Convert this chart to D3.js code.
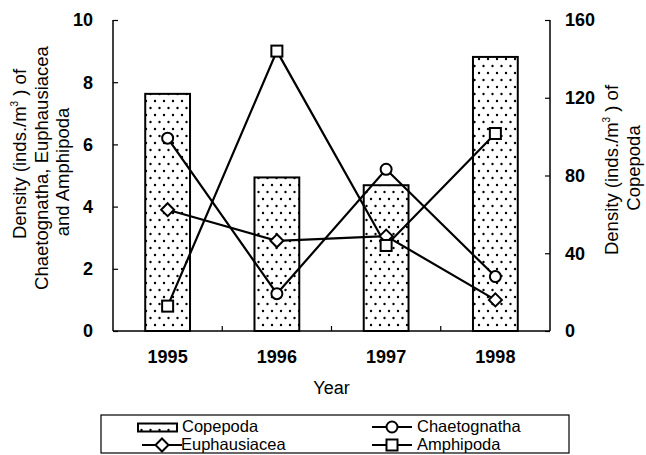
<!DOCTYPE html>
<html><head><meta charset="utf-8">
<script src="https://cdn.jsdelivr.net/npm/d3@7"></script>
<style>
html,body{margin:0;padding:0;background:#fff;}
text{font-family:"Liberation Sans",Arial,sans-serif;fill:#000;}
</style></head>
<body>
<svg id="c" width="646" height="455"></svg>
<script>
const years = ["1995","1996","1997","1998"];
const copepoda = [122, 79, 75, 141];
const chaetognatha = [6.2, 1.2, 5.2, 1.75];
const euphausiacea = [3.9, 2.9, 3.05, 1.0];
const amphipoda = [0.8, 9.0, 2.75, 6.35];
const leftTicks = [0, 2, 4, 6, 8, 10];
const rightTicks = [0, 40, 80, 120, 160];

const svg = d3.select("#c");
const L = 113, R = 550, T = 20, B = 331;

const x = d3.scaleBand().domain(years).range([L, R]).paddingInner(0.59).paddingOuter(0.295);
const xc = d => x(d) + x.bandwidth()/2;
const yL = d3.scaleLinear().domain([0, 10]).range([B, T]);
const yR = d3.scaleLinear().domain([0, 160]).range([B, T]);

// dot pattern
const defs = svg.append("defs");
const pat = defs.append("pattern").attr("id","dots").attr("patternUnits","userSpaceOnUse")
  .attr("width", 9).attr("height", 14);
pat.append("rect").attr("width",9).attr("height",14).attr("fill","#fff");
pat.append("circle").attr("cx",2).attr("cy",3).attr("r",1.2).attr("fill","#000");
pat.append("circle").attr("cx",6.5).attr("cy",10).attr("r",1.2).attr("fill","#000");

// bars
svg.append("g").selectAll("rect").data(years).join("rect")
  .attr("x", d => x(d)).attr("width", x.bandwidth())
  .attr("y", (d,i) => yR(copepoda[i])).attr("height", (d,i) => B - yR(copepoda[i]))
  .attr("fill","url(#dots)").attr("stroke","#000").attr("stroke-width",2);

// axes
const axL = svg.append("g").attr("transform",`translate(${L},0)`)
  .call(d3.axisRight(yL).tickValues(leftTicks).tickSize(5).tickFormat(""));
const axR = svg.append("g").attr("transform",`translate(${R},0)`)
  .call(d3.axisLeft(yR).tickValues(rightTicks).tickSize(5).tickFormat(""));
[axL, axR].forEach(a => {
  a.select(".domain").attr("stroke","#000").attr("stroke-width",1.5).attr("d", `M0,${T}V${B}`);
  a.selectAll("line").attr("stroke","#000").attr("stroke-width",1.2);
});
svg.append("line").attr("x1",L).attr("x2",R).attr("y1",B).attr("y2",B).attr("stroke","#000").attr("stroke-width",1.5);
// category separator ticks
svg.append("g").selectAll("line").data(years.slice(1)).join("line")
  .attr("x1", d => x(d) - x.step()*x.paddingInner()/2).attr("x2", d => x(d) - x.step()*x.paddingInner()/2)
  .attr("y1", B).attr("y2", B-5).attr("stroke","#000").attr("stroke-width",1.2);

// tick labels
svg.append("g").selectAll("text").data(leftTicks).join("text")
  .attr("x", 93).attr("y", d => yL(d)).attr("dy","0.35em").attr("text-anchor","end")
  .attr("font-size",18).attr("font-weight","bold").text(d => d);
svg.append("g").selectAll("text").data(rightTicks).join("text")
  .attr("x", 565).attr("y", d => yR(d)).attr("dy","0.35em").attr("text-anchor","start")
  .attr("font-size",18).attr("font-weight","bold").text(d => d);
svg.append("g").selectAll("text").data(years).join("text")
  .attr("x", d => xc(d)).attr("y", 363).attr("text-anchor","middle")
  .attr("font-size",18).attr("font-weight","bold").text(d => d);

svg.append("text").attr("x", (L+R)/2).attr("y", 394).attr("text-anchor","middle")
  .attr("font-size",18).text("Year");

// axis titles
function vtext(cx, cy, parts){
  const t = svg.append("text").attr("transform",`translate(${cx},${cy}) rotate(-90)`)
    .attr("text-anchor","middle").attr("dy","0.35em").attr("font-size",18.5);
  parts.forEach(p => {
    const s = t.append("tspan").text(p.t);
    if (p.sup) s.attr("font-size",10).attr("dy","-8");
    if (p.after) s.attr("dy","8");
  });
  return t;
}
vtext(20, 154, [{t:"Density (inds./m"},{t:"3",sup:true},{t:" ) of",after:true}]);
vtext(42, 168, [{t:"Chaetognatha, Euphausiacea"}]);
vtext(63, 172, [{t:"and Amphipoda"}]);
vtext(612, 170, [{t:"Density (inds./m"},{t:"3",sup:true},{t:" ) of",after:true}]);
vtext(634, 168, [{t:"Copepoda"}]);

// lines
const series = [
  {name:"Chaetognatha", v:chaetognatha, sym:"circle"},
  {name:"Euphausiacea", v:euphausiacea, sym:"diamond"},
  {name:"Amphipoda", v:amphipoda, sym:"square"}
];
const line = d3.line().x((d,i) => xc(years[i])).y(d => yL(d));
series.forEach(s => {
  svg.append("path").datum(s.v).attr("d", line).attr("fill","none")
    .attr("stroke","#000").attr("stroke-width",2.2);
});
function marker(g, sym, cx, cy){
  if (sym === "circle") g.append("circle").attr("cx",cx).attr("cy",cy).attr("r",5.5);
  else if (sym === "square") g.append("rect").attr("x",cx-5.5).attr("y",cy-5.5).attr("width",11).attr("height",11);
  else g.append("path").attr("d",`M${cx},${cy-6.5}L${cx+6.5},${cy}L${cx},${cy+6.5}L${cx-6.5},${cy}Z`);
}
series.forEach(s => {
  const g = svg.append("g").attr("fill","#fff").attr("stroke","#000").attr("stroke-width",2);
  s.v.forEach((d,i) => marker(g, s.sym, xc(years[i]), yL(d)));
});

// legend
const lg = svg.append("g");
lg.append("rect").attr("x",101).attr("y",415).attr("width",468).attr("height",38)
  .attr("fill","#fff").attr("stroke","#000").attr("stroke-width",1.2);
lg.append("rect").attr("x",138).attr("y",423.5).attr("width",39).attr("height",8)
  .attr("fill","url(#dots)").attr("stroke","#000").attr("stroke-width",2);
lg.append("text").attr("x",182).attr("y",432).attr("font-size",16.5).text("Copepoda");
const items = [
  {name:"Euphausiacea", sym:"diamond", x0:142, y:445, tx:181, ty:450},
  {name:"Chaetognatha", sym:"circle", x0:372, y:427, tx:417, ty:432},
  {name:"Amphipoda", sym:"square", x0:372, y:445, tx:417, ty:450}
];
items.forEach(it => {
  lg.append("line").attr("x1",it.x0).attr("x2",it.x0+40).attr("y1",it.y).attr("y2",it.y)
    .attr("stroke","#000").attr("stroke-width",2);
  const g = lg.append("g").attr("fill","#fff").attr("stroke","#000").attr("stroke-width",2);
  marker(g, it.sym, it.x0+20, it.y);
  lg.append("text").attr("x",it.tx).attr("y",it.ty).attr("font-size",16.5).text(it.name);
});
</script>
</body></html>
